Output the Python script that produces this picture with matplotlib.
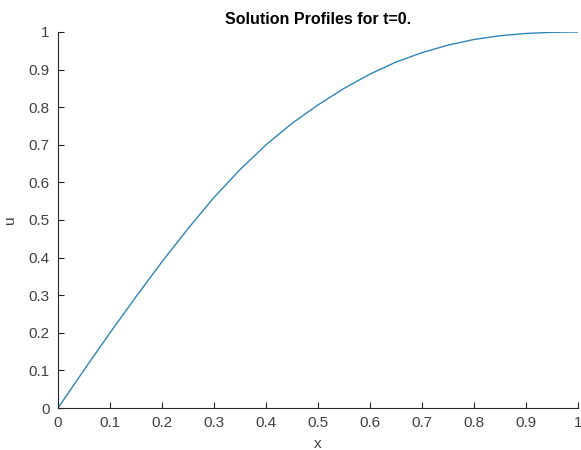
import matplotlib
matplotlib.use("Agg")
from matplotlib import pyplot as plt

plt.rcParams['font.family'] = ['Liberation Sans', 'DejaVu Sans']

# values
x = [0.0, 0.05, 0.1, 0.15, 0.2, 0.25, 0.3, 0.35, 0.4, 0.45, 0.5,
     0.55, 0.6, 0.65, 0.7, 0.75, 0.8, 0.85, 0.9, 0.95, 1.0]
u = [0.0, 0.101, 0.200, 0.296, 0.389, 0.477, 0.560, 0.634, 0.700, 0.757, 0.806,
     0.850, 0.888, 0.920, 0.945, 0.965, 0.980, 0.990, 0.996, 0.999, 1.0]
xticks = [0, 0.1, 0.2, 0.3, 0.4, 0.5, 0.6, 0.7, 0.8, 0.9, 1]
yticks = [0, 0.1, 0.2, 0.3, 0.4, 0.5, 0.6, 0.7, 0.8, 0.9, 1]

fig = plt.figure(figsize=(5.81, 4.5), dpi=100)
ax = fig.add_axes([0.0998, 0.0933, 0.8952, 0.8357])
ax.plot(x, u, color='#2e86b8', lw=1)

ax.set_xlim(0, 1)
ax.set_ylim(0, 1)
ax.set_xticks(xticks)
ax.set_yticks(yticks)
ax.set_xticklabels([f"{t:g}" for t in xticks])
ax.set_yticklabels([f"{t:g}" for t in yticks])
ax.spines['top'].set_visible(False)
ax.spines['right'].set_visible(False)
for s in ('left', 'bottom'):
    ax.spines[s].set_color('#262626')
    ax.spines[s].set_linewidth(0.8)
ax.tick_params(direction='in', length=4, width=0.8, colors='#262626',
               labelsize=11, labelcolor='#404040')
ax.tick_params(axis='x', pad=6)
ax.tick_params(axis='y', pad=6)

ax.set_xlabel('x', fontsize=11, color='#404040', labelpad=5)
ax.set_ylabel('u', fontsize=11, color='#404040', labelpad=8)
ax.set_title('Solution Profiles for t=0.', fontsize=11.5, fontweight='bold', pad=6)

fig.savefig('out.png', dpi=100)
